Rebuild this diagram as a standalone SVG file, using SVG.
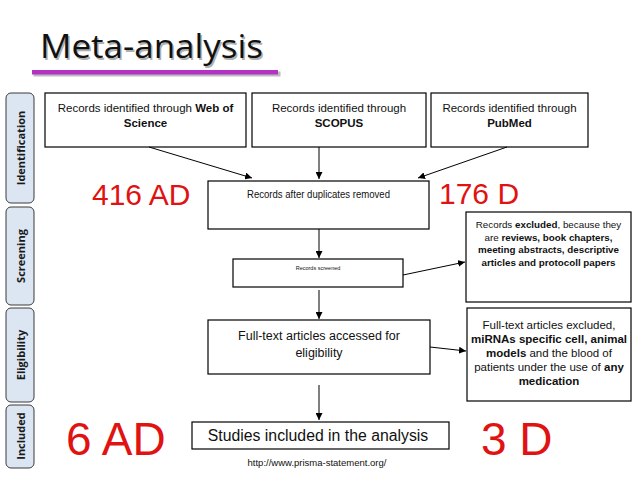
<svg xmlns="http://www.w3.org/2000/svg" width="638" height="479" viewBox="0 0 638 479">
<defs>
<marker id="ah" viewBox="0 0 10 10" refX="10" refY="5" markerWidth="7" markerHeight="7" markerUnits="userSpaceOnUse" orient="auto">
<path d="M0,0 L10,5 L0,10 z" fill="#000"/>
</marker>
</defs>
<style>
.box{fill:#fff;stroke:#000;stroke-width:1.2}
.tab{fill:#dce6f2;stroke:#3a3a3a;stroke-width:1}
.tabt{font-family:"Open Sans","Liberation Sans",sans-serif;font-weight:bold;font-size:11px;fill:#1a1a1a;text-anchor:middle}
.t{font-family:"Liberation Sans",Arial,sans-serif;fill:#111;text-anchor:middle}
.b{font-weight:bold}
.red{font-family:"Liberation Sans",Arial,sans-serif;fill:#e01212}
.c{stroke:#000;stroke-width:1;fill:none;marker-end:url(#ah)}
</style>
<rect width="638" height="479" fill="#fff"/>

<g id="title">
<rect x="32" y="70" width="247" height="5" fill="#bcbcbc" transform="translate(1.5,1.5)"/>
<rect x="32" y="70" width="246" height="4.5" fill="#b232c4"/>
<text x="41.5" y="59.5" font-family="'Open Sans','DejaVu Sans',sans-serif" font-size="32" fill="#b0b0b0" textLength="223" lengthAdjust="spacingAndGlyphs">Meta-analysis</text>
<text x="40" y="58" font-family="'Open Sans','DejaVu Sans',sans-serif" font-size="32" fill="#111" textLength="223" lengthAdjust="spacingAndGlyphs">Meta-analysis</text>
</g>

<g id="tab-identification">
<rect class="tab" x="6" y="93" width="28" height="110" rx="5"/>
<text class="tabt" transform="translate(25 148) rotate(-90)">Identification</text>
</g>
<g id="tab-screening">
<rect class="tab" x="6" y="207" width="28" height="98" rx="5"/>
<text class="tabt" transform="translate(25 256) rotate(-90)">Screening</text>
</g>
<g id="tab-eligibility">
<rect class="tab" x="6" y="308" width="28" height="94" rx="5"/>
<text class="tabt" transform="translate(25 355) rotate(-90)">Eligibility</text>
</g>
<g id="tab-included">
<rect class="tab" x="6" y="405" width="28" height="63" rx="5"/>
<text class="tabt" transform="translate(25 436) rotate(-90)">Included</text>
</g>

<g id="wos">
<rect class="box" x="45" y="93" width="201" height="54"/>
<text class="t" x="145.5" y="112" font-size="11.5">Records identified through <tspan class="b">Web of</tspan></text>
<text class="t b" x="145.5" y="127" font-size="11.5">Science</text>
</g>
<g id="scopus">
<rect class="box" x="252" y="93" width="174" height="54"/>
<text class="t" x="339" y="112" font-size="11.5">Records identified through</text>
<text class="t b" x="339" y="127" font-size="11.5">SCOPUS</text>
</g>
<g id="pubmed">
<rect class="box" x="431" y="93" width="157" height="54"/>
<text class="t" x="509.5" y="112" font-size="11.5">Records identified through</text>
<text class="t b" x="509.5" y="127" font-size="11.5">PubMed</text>
</g>

<g id="dedup">
<rect class="box" x="208" y="181" width="221" height="48"/>
<text class="t" x="318.5" y="198" font-size="10" textLength="143" lengthAdjust="spacingAndGlyphs">Records after duplicates removed</text>
</g>
<g id="screened">
<rect class="box" x="233" y="259" width="170" height="28"/>
<text class="t" x="318" y="270" font-size="5.5">Records screened</text>
</g>
<g id="excluded1">
<rect class="box" x="466" y="212" width="165" height="90"/>
<text class="t" x="548.5" y="227.5" font-size="9.8">Records <tspan class="b">excluded</tspan>, because they</text>
<text class="t" x="548.5" y="240.5" font-size="9.8">are <tspan class="b">reviews, book chapters,</tspan></text>
<text class="t b" x="548.5" y="253" font-size="9.8">meeting abstracts, descriptive</text>
<text class="t b" x="548.5" y="266" font-size="9.8">articles and protocoll papers</text>
</g>
<g id="fulltext">
<rect class="box" x="208" y="320" width="222" height="54"/>
<text class="t" x="319" y="339.5" font-size="12.5">Full-text articles accessed for</text>
<text class="t" x="319" y="357" font-size="12.5">eligibility</text>
</g>
<g id="excluded2">
<rect class="box" x="467" y="308" width="164" height="93"/>
<text class="t" x="549" y="329" font-size="11.5">Full-text articles excluded,</text>
<text class="t b" x="549" y="343" font-size="11.5">miRNAs specific cell, animal</text>
<text class="t" x="549" y="357" font-size="11.5"><tspan class="b">models</tspan> and the blood of</text>
<text class="t" x="549" y="371" font-size="11.5">patients under the use of <tspan class="b">any</tspan></text>
<text class="t b" x="549" y="385" font-size="11.5">medication</text>
</g>
<g id="studies">
<rect class="box" x="192" y="422" width="257" height="27"/>
<text class="t" x="318" y="441" font-size="15.8">Studies included in the analysis</text>
</g>

<g id="labels">
<text class="red" x="92" y="205" font-size="30">416 AD</text>
<text class="red" x="439" y="204" font-size="30">176 D</text>
<text class="red" x="66" y="455" font-size="46">6 AD</text>
<text class="red" x="481" y="455" font-size="46">3 D</text>
<text class="t" x="317" y="466" font-size="9.5">http://www.prisma-statement.org/</text>
</g>

<g id="connectors">
<line class="c" x1="149" y1="147" x2="252" y2="178"/>
<line class="c" x1="319" y1="147" x2="319" y2="179"/>
<line class="c" x1="507" y1="147" x2="418" y2="178"/>
<line class="c" x1="319" y1="229" x2="319" y2="258"/>
<line class="c" x1="403" y1="275" x2="465" y2="262"/>
<line class="c" x1="319" y1="290" x2="319" y2="319"/>
<line class="c" x1="430" y1="347" x2="466" y2="351"/>
<line class="c" x1="319" y1="385" x2="319" y2="420"/>
</g>
</svg>
